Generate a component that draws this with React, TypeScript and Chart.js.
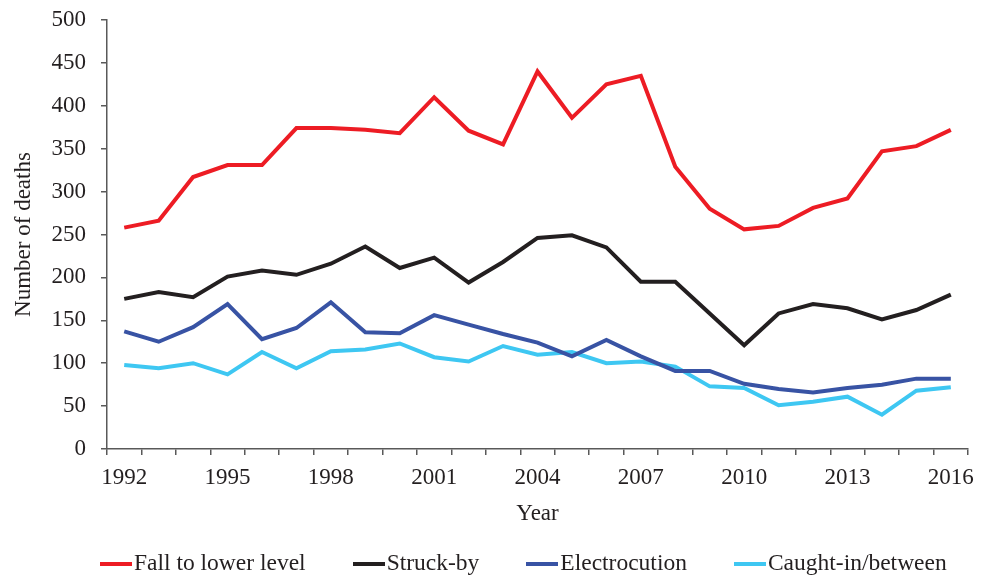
import React, { useEffect, useRef } from "react";
import { Chart, registerables } from "chart.js";

Chart.register(...registerables);

const years: string[] = [
  "1992", "1993", "1994", "1995", "1996", "1997", "1998", "1999", "2000",
  "2001", "2002", "2003", "2004", "2005", "2006", "2007", "2008", "2009",
  "2010", "2011", "2012", "2013", "2014", "2015", "2016",
];

const fallToLowerLevel: number[] = [
  258, 266, 317, 331, 331, 374, 374, 372, 368, 410, 371, 355, 440,
  386, 425, 435, 329, 280, 256, 260, 281, 292, 347, 353, 372,
];
const struckBy: number[] = [
  175, 183, 177, 201, 208, 203, 216, 236, 211, 223, 194, 218, 246,
  249, 235, 195, 195, 158, 121, 158, 169, 164, 151, 162, 180,
];
const electrocution: number[] = [
  137, 125, 142, 169, 128, 141, 171, 136, 135, 156, 145, 134, 124,
  108, 127, 108, 91, 91, 76, 70, 66, 71, 75, 82, 82,
];
const caughtInBetween: number[] = [
  98, 94, 100, 87, 113, 94, 114, 116, 123, 107, 102, 120, 110,
  113, 100, 102, 96, 73, 71, 51, 55, 61, 40, 68, 72,
];

const seriesNames: string[] = ["Fall to lower level", "Struck-by", "Electrocution", "Caught-in/between"];
const seriesColors: string[] = ["#ED1C24", "#231F20", "#3853A4", "#3EC7F2"];
const seriesValues: number[][] = [fallToLowerLevel, struckBy, electrocution, caughtInBetween];

const FONT = "'Liberation Serif', 'Times New Roman', serif";
const TEXT = "#231F20";
const AXIS = "#595959";
const FS = 23;

export default function App() {
  const ref = useRef<HTMLCanvasElement | null>(null);

  useEffect(() => {
    if (!ref.current) return;
    const chart = new Chart(ref.current, {
      type: "line",
      data: {
        labels: years,
        datasets: seriesNames.map((name, i) => ({
          label: name,
          data: seriesValues[i],
          borderColor: seriesColors[i],
          backgroundColor: seriesColors[i],
          borderWidth: 4,
          pointRadius: 0,
          tension: 0,
          fill: false,
        })),
      },
      options: {
        responsive: false,
        animation: false,
        layout: { padding: { left: 0, right: 10, top: 20, bottom: 0 } },
        plugins: {
          legend: { display: false },
          tooltip: { enabled: false },
        },
        scales: {
          x: {
            type: "category",
            offset: true,
            grid: {
              offset: true,
              drawOnChartArea: false,
              drawTicks: true,
              tickLength: 6,
              color: AXIS,
              lineWidth: 1.5,
            },
            border: { color: AXIS, width: 1.5 },
            ticks: {
              autoSkip: false,
              maxRotation: 0,
              minRotation: 0,
              padding: 9,
              color: TEXT,
              font: { family: FONT, size: FS },
              callback: (_v: any, i: number) => (i % 3 === 0 ? years[i] : ""),
            },
            title: {
              display: true,
              text: "Year",
              color: TEXT,
              font: { family: FONT, size: FS },
              padding: { top: 0, bottom: 49 },
            },
            afterFit: (scale: any) => {
              scale.height = 128;
            },
          },
          y: {
            min: 0,
            max: 500,
            grid: {
              drawOnChartArea: false,
              drawTicks: true,
              tickLength: 6,
              color: AXIS,
              lineWidth: 1.5,
            },
            border: { color: AXIS, width: 1.5 },
            ticks: {
              stepSize: 50,
              padding: 15,
              color: TEXT,
              font: { family: FONT, size: FS },
            },
            title: {
              display: true,
              text: "Number of deaths",
              color: TEXT,
              font: { family: FONT, size: FS },
              padding: { top: 10, bottom: 0 },
            },
            afterFit: (scale: any) => {
              scale.width = 107;
              scale.paddingTop = 0;
              scale.paddingBottom = 0;
            },
          },
        },
      },
    });
    return () => chart.destroy();
  }, []);

  return (
    <div style={{ position: "absolute", left: 0, top: 0, width: 983, height: 577, background: "#fff" }}>
      <canvas ref={ref} width={983} height={577} style={{ display: "block" }} />
      <div
        style={{
          position: "absolute",
          left: 100,
          top: 551,
          display: "flex",
          gap: 47,
          fontFamily: FONT,
          fontSize: 23.5,
          lineHeight: "23px",
          color: TEXT,
          whiteSpace: "nowrap",
        }}
      >
        {seriesNames.map((name, i) => (
          <div key={name} style={{ display: "flex", alignItems: "center" }}>
            <span
              style={{
                display: "inline-block",
                width: 32,
                height: 4,
                background: seriesColors[i],
                marginRight: 2,
                position: "relative",
                top: 1,
              }}
            />
            <span>{name}</span>
          </div>
        ))}
      </div>
    </div>
  );
}
